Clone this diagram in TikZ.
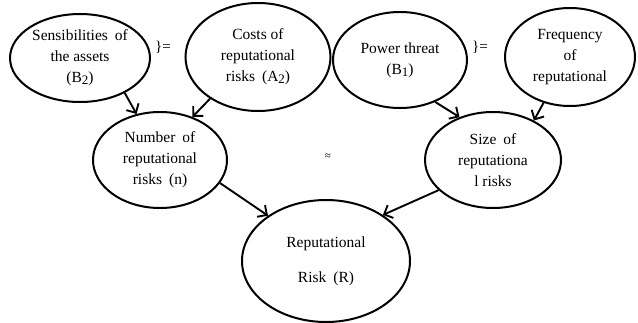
\documentclass[tikz,border=0pt]{standalone}
\usepackage{fontspec}
\setmainfont{Liberation Serif}
\usetikzlibrary{shapes.geometric,arrows.meta}
\newcommand{\sub}[1]{\raisebox{-2pt}{\fontsize{13}{15}\selectfont #1}}
\begin{document}
\begin{tikzpicture}[x=1pt,y=-1pt,
  oval/.style={ellipse,draw,line width=2pt,inner sep=-12pt,align=center,
    font=\fontsize{15.5}{21}\selectfont},
  conn/.style={line width=1.9pt,-{Straight Barb[length=7pt,width=14pt,line width=1.9pt]}},
  sym/.style={font=\fontsize{15}{18}\selectfont,inner sep=0pt}]
\useasboundingbox (0,0) rectangle (638,322);
\node[oval,minimum width=140pt,minimum height=88pt] (sens) at (80,58)
  {Sensibilities\hspace{0.45em}of\\the assets\\(B\sub{2})};
\node[oval,minimum width=145pt,minimum height=108pt] (cost) at (258,57)
  {Costs of\\reputational\\risks\hspace{0.45em}(A\sub{2})};
\node[oval,minimum width=134pt,minimum height=96pt] (power) at (400,60)
  {Power threat\\(B\sub{1})};
\node[oval,minimum width=130pt,minimum height=98pt] (freq) at (570,57)
  {Frequency\\of\\reputational};
\node[oval,minimum width=134pt,minimum height=96pt] (num) at (160,160)
  {Number\hspace{0.45em}of\\reputational\\risks\hspace{0.45em}(n)};
\node[oval,minimum width=136pt,minimum height=96pt] (size) at (493,160)
  {Size\hspace{0.45em}of\\reputationa\\l risks};
\node[oval,minimum width=168pt,minimum height=122pt,
  font=\fontsize{15.5}{35}\selectfont] (rr) at (326,261)
  {Reputational\\Risk\hspace{0.45em}(R)};
\node[sym] (eq1) at (163,47) {\}=};
\node[sym] (eq2) at (480,47) {\}=};
\node[sym,font=\fontsize{11}{12}\selectfont] (approx) at (328,157) {≈};
\draw[conn] (sens.-38) -- (num.117);
\draw[conn] (cost.221) -- (num.53);
\draw[conn] (power.-50) -- (size.128);
\draw[conn] (freq.-120) -- (size.44);
\draw[conn] (num.-21) -- (rr.142);
\draw[conn] (size.209) -- (rr.39);
\end{tikzpicture}
\end{document}
